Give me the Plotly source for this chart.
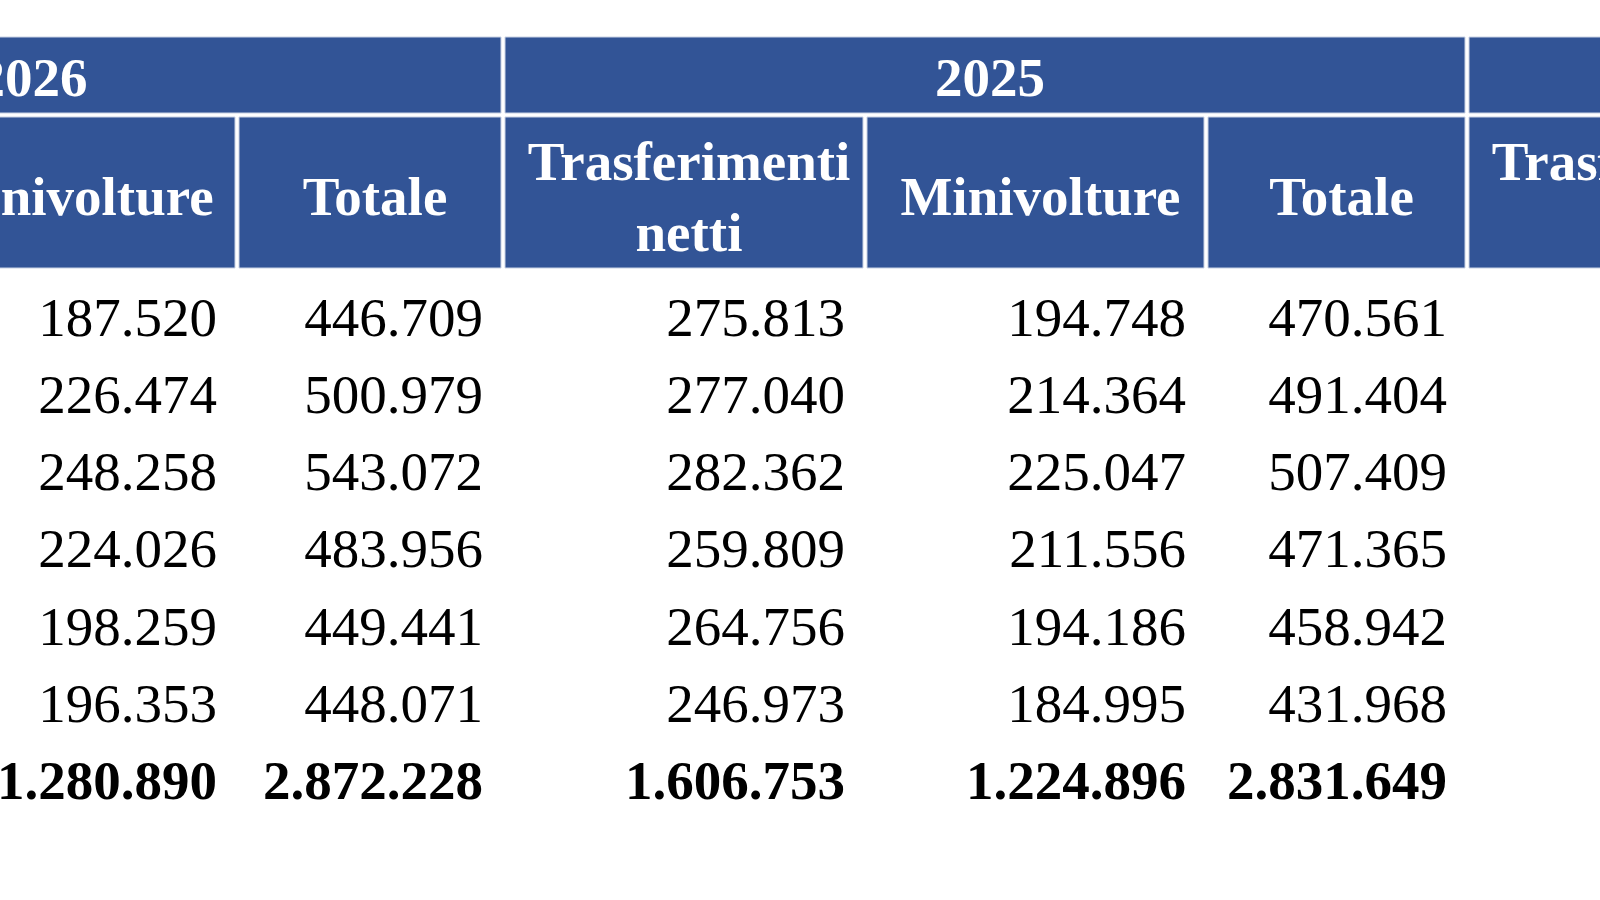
import plotly.graph_objects as go

# ---------------- data ----------------
years = ["2026", "2025", "2024"]
sub_headers = ["Trasferimenti<br>netti", "Minivolture", "Totale"]

mini_2026 = [187520, 226474, 248258, 224026, 198259, 196353]
mini_2026_total = 1280890
tot_2026 = [446709, 500979, 543072, 483956, 449441, 448071]
tot_2026_total = 2872228

trasf_2025 = [275813, 277040, 282362, 259809, 264756, 246973]
trasf_2025_total = 1606753
mini_2025 = [194748, 214364, 225047, 211556, 194186, 184995]
mini_2025_total = 1224896
tot_2025 = [470561, 491404, 507409, 471365, 458942, 431968]
tot_2025_total = 2831649

# ---------------- layout constants (pixel-space axes) ----------------
W, H = 1600, 900
HEADER_BLUE = "#325496"
EDGE = "#c9d2e4"
FONT = "Liberation Serif"
FS = 55
edges = [-448, -100, 237, 503, 865, 1206, 1467, 1829, 2170, 2430]
GAP = 2
r1_top, r1_bot = 37, 113
r2_top, r2_bot = 117, 268
year_dy, sub_dy = 7, 9
hdr_dx = 5
row0, pitch = 322, 77.2
PAD = 18


def fmt(v):
    return f"{v:,}".replace(",", ".")


fig = go.Figure()
shapes = []

# group header cells (row 1)
for g in range(3):
    x0 = edges[3 * g] + GAP
    x1 = edges[3 * g + 3] - GAP
    shapes.append(dict(type="rect", xref="x", yref="y", x0=x0, x1=x1,
                       y0=r1_top, y1=r1_bot, fillcolor=HEADER_BLUE,
                       line=dict(width=1, color=EDGE), layer="below"))
# sub header cells (row 2)
for c in range(9):
    shapes.append(dict(type="rect", xref="x", yref="y", x0=edges[c] + GAP,
                       x1=edges[c + 1] - GAP, y0=r2_top, y1=r2_bot,
                       fillcolor=HEADER_BLUE, line=dict(width=1, color=EDGE),
                       layer="below"))

# year header texts
fig.add_trace(go.Scatter(
    x=[(edges[3 * g] + edges[3 * g + 3]) / 2 + hdr_dx for g in range(3)],
    y=[(r1_top + r1_bot) / 2 + year_dy] * 3,
    text=years, mode="text", textposition="middle center",
    textfont=dict(family=FONT, size=FS, color="white", weight="bold"),
    hoverinfo="skip", showlegend=False))

# sub header texts
fig.add_trace(go.Scatter(
    x=[(edges[c] + edges[c + 1]) / 2 + hdr_dx for c in range(9)],
    y=[(r2_top + r2_bot) / 2 + sub_dy] * 9,
    text=sub_headers * 3, mode="text", textposition="middle center",
    textfont=dict(family=FONT, size=FS, color="white", weight="bold"),
    hoverinfo="skip", showlegend=False))

# data columns: (column index, values, total)
columns = [
    (1, mini_2026, mini_2026_total),
    (2, tot_2026, tot_2026_total),
    (3, trasf_2025, trasf_2025_total),
    (4, mini_2025, mini_2025_total),
    (5, tot_2025, tot_2025_total),
]
for ci, vals, tot in columns:
    xr = edges[ci + 1] - GAP - PAD
    fig.add_trace(go.Scatter(
        x=[xr] * len(vals),
        y=[row0 + i * pitch for i in range(len(vals))],
        text=[fmt(v) for v in vals], mode="text", textposition="middle left",
        textfont=dict(family=FONT, size=FS, color="black"),
        hoverinfo="skip", showlegend=False))
    fig.add_trace(go.Scatter(
        x=[xr], y=[row0 + len(vals) * pitch],
        text=[fmt(tot)], mode="text", textposition="middle left",
        textfont=dict(family=FONT, size=FS, color="black", weight="bold"),
        hoverinfo="skip", showlegend=False))

fig.update_layout(
    width=W, height=H,
    margin=dict(l=0, r=0, t=0, b=0),
    paper_bgcolor="white", plot_bgcolor="white",
    shapes=shapes,
    xaxis=dict(range=[0, W], visible=False, fixedrange=True),
    yaxis=dict(range=[H, 0], visible=False, fixedrange=True),
    showlegend=False,
    hovermode=False,
)

fig.write_html(
    "out.html",
    config={"displayModeBar": False},
    post_script="document.body.style.margin='0';document.body.style.overflow='hidden';",
)
